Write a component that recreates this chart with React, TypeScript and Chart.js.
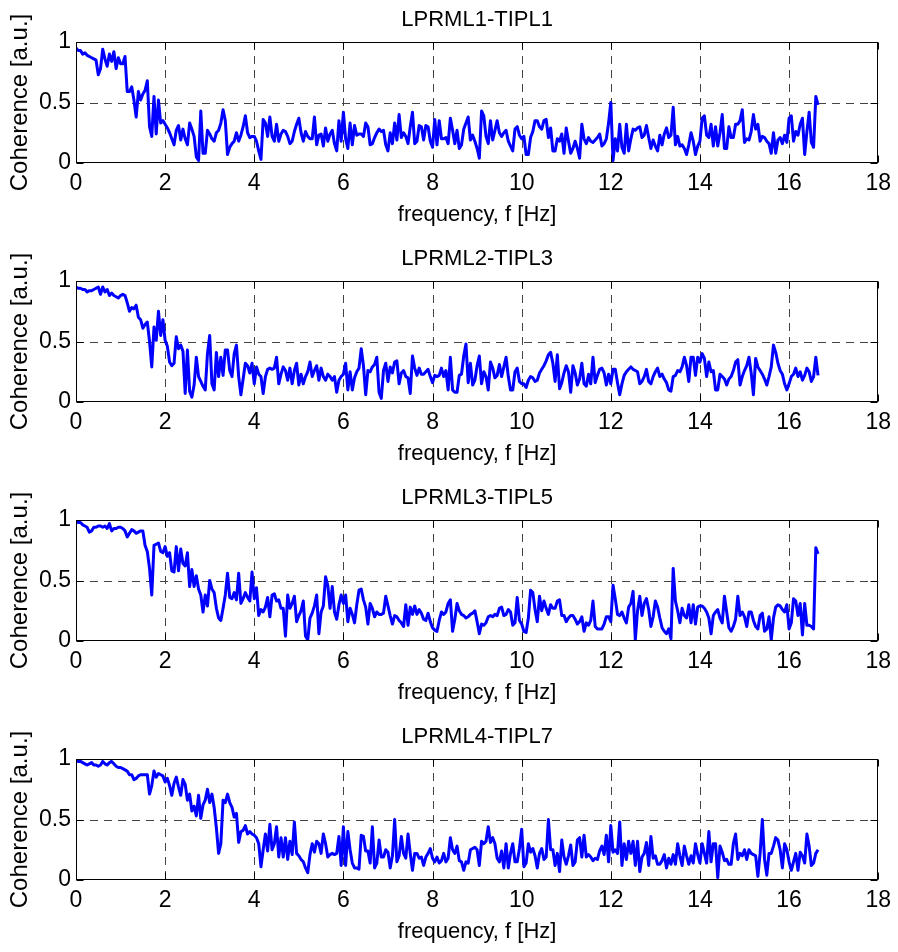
import React, { useEffect, useRef } from "react";
import { Chart, registerables } from "chart.js";

Chart.register(...registerables);

// ---------- data ----------
const FREQ_STEP_HZ = 0.05; // spacing of the frequency grid, starting at 0 Hz
const X_TICKS = [0, 2, 4, 6, 8, 10, 12, 14, 16, 18];
const Y_TICKS = [0, 0.5, 1];
const TITLES = ["LPRML1-TIPL1", "LPRML2-TIPL3", "LPRML3-TIPL5", "LPRML4-TIPL7"];
const X_LABEL = "frequency, f [Hz]";
const Y_LABEL = "Coherence [a.u.]";

// one row = 1 Hz (20 samples)
const COH_1 = [
  0.95, 0.93, 0.93, 0.90, 0.91, 0.89, 0.88, 0.87, 0.86, 0.85, 0.73, 0.78, 0.94, 0.86, 0.80, 0.90, 0.84, 0.92, 0.78, 0.87,
  0.82, 0.82, 0.88, 0.59, 0.59, 0.63, 0.52, 0.38, 0.59, 0.52, 0.57, 0.60, 0.68, 0.30, 0.22, 0.55, 0.24, 0.52, 0.33, 0.35,
  0.32, 0.29, 0.25, 0.20, 0.15, 0.27, 0.31, 0.19, 0.28, 0.20, 0.15, 0.33, 0.28, 0.22, 0.05, 0.02, 0.43, 0.08, 0.08, 0.27,
  0.24, 0.20, 0.18, 0.25, 0.27, 0.33, 0.44, 0.35, 0.07, 0.13, 0.16, 0.18, 0.25, 0.18, 0.23, 0.30, 0.39, 0.25, 0.21, 0.22,
  0.22, 0.18, 0.10, 0.03, 0.36, 0.33, 0.22, 0.38, 0.22, 0.18, 0.32, 0.18, 0.24, 0.27, 0.26, 0.22, 0.16, 0.18, 0.26, 0.32,
  0.37, 0.25, 0.18, 0.26, 0.22, 0.20, 0.20, 0.38, 0.15, 0.23, 0.24, 0.14, 0.29, 0.18, 0.24, 0.27, 0.16, 0.10, 0.35, 0.18,
  0.42, 0.20, 0.12, 0.33, 0.15, 0.31, 0.23, 0.24, 0.24, 0.22, 0.33, 0.30, 0.15, 0.16, 0.21, 0.25, 0.28, 0.26, 0.27, 0.15,
  0.10, 0.25, 0.16, 0.33, 0.19, 0.40, 0.21, 0.25, 0.22, 0.16, 0.30, 0.42, 0.16, 0.18, 0.31, 0.30, 0.19, 0.31, 0.30, 0.18,
  0.13, 0.36, 0.15, 0.35, 0.20, 0.20, 0.21, 0.16, 0.37, 0.27, 0.16, 0.27, 0.12, 0.15, 0.28, 0.33, 0.38, 0.19, 0.23, 0.18,
  0.12, 0.04, 0.43, 0.39, 0.22, 0.16, 0.35, 0.19, 0.27, 0.35, 0.25, 0.22, 0.25, 0.27, 0.18, 0.14, 0.10, 0.28, 0.30, 0.23,
  0.20, 0.22, 0.07, 0.07, 0.21, 0.26, 0.35, 0.35, 0.30, 0.28, 0.35, 0.36, 0.21, 0.29, 0.10, 0.10, 0.20, 0.18, 0.24, 0.08,
  0.29, 0.18, 0.08, 0.12, 0.18, 0.12, 0.04, 0.32, 0.20, 0.16, 0.21, 0.18, 0.17, 0.19, 0.21, 0.24, 0.14, 0.16, 0.20, 0.33,
  0.50, 0.02, 0.20, 0.10, 0.32, 0.13, 0.08, 0.32, 0.10, 0.20, 0.28, 0.27, 0.29, 0.30, 0.21, 0.23, 0.31, 0.21, 0.12, 0.19,
  0.14, 0.10, 0.23, 0.15, 0.24, 0.29, 0.21, 0.23, 0.46, 0.15, 0.22, 0.14, 0.15, 0.12, 0.07, 0.15, 0.25, 0.18, 0.07, 0.14,
  0.18, 0.37, 0.39, 0.23, 0.21, 0.32, 0.14, 0.30, 0.14, 0.25, 0.40, 0.12, 0.12, 0.30, 0.21, 0.21, 0.32, 0.32, 0.35, 0.44,
  0.17, 0.20, 0.19, 0.26, 0.40, 0.28, 0.32, 0.18, 0.22, 0.21, 0.18, 0.16, 0.08, 0.25, 0.08, 0.19, 0.21, 0.16, 0.23, 0.17,
  0.37, 0.39, 0.18, 0.26, 0.23, 0.32, 0.37, 0.07, 0.26, 0.42, 0.17, 0.13, 0.55, 0.48,
];

const COH_2 = [
  0.95, 0.94, 0.94, 0.93, 0.93, 0.91, 0.92, 0.92, 0.93, 0.94, 0.95, 0.89, 0.95, 0.91, 0.93, 0.88, 0.90, 0.88, 0.87, 0.86,
  0.88, 0.89, 0.88, 0.82, 0.75, 0.78, 0.77, 0.80, 0.70, 0.68, 0.61, 0.64, 0.66, 0.50, 0.29, 0.62, 0.51, 0.75, 0.55, 0.68,
  0.51, 0.46, 0.33, 0.30, 0.32, 0.54, 0.44, 0.47, 0.42, 0.07, 0.43, 0.09, 0.04, 0.14, 0.37, 0.21, 0.17, 0.13, 0.10, 0.40,
  0.55, 0.15, 0.10, 0.41, 0.21, 0.37, 0.22, 0.43, 0.43, 0.26, 0.21, 0.40, 0.47, 0.21, 0.06, 0.19, 0.32, 0.30, 0.24, 0.32,
  0.15, 0.29, 0.23, 0.21, 0.07, 0.21, 0.27, 0.28, 0.27, 0.28, 0.37, 0.15, 0.23, 0.29, 0.26, 0.18, 0.28, 0.15, 0.26, 0.32,
  0.14, 0.23, 0.15, 0.21, 0.25, 0.33, 0.21, 0.26, 0.30, 0.18, 0.28, 0.21, 0.18, 0.23, 0.21, 0.18, 0.21, 0.08, 0.18, 0.21,
  0.23, 0.32, 0.10, 0.25, 0.10, 0.20, 0.25, 0.28, 0.44, 0.30, 0.06, 0.26, 0.25, 0.29, 0.31, 0.37, 0.08, 0.03, 0.26, 0.32,
  0.17, 0.29, 0.24, 0.33, 0.34, 0.15, 0.24, 0.26, 0.21, 0.20, 0.07, 0.38, 0.28, 0.22, 0.28, 0.23, 0.23, 0.25, 0.27, 0.21,
  0.16, 0.22, 0.21, 0.22, 0.28, 0.21, 0.26, 0.10, 0.37, 0.10, 0.08, 0.08, 0.22, 0.23, 0.38, 0.48, 0.16, 0.32, 0.14, 0.18,
  0.30, 0.38, 0.15, 0.25, 0.21, 0.10, 0.33, 0.28, 0.20, 0.22, 0.31, 0.21, 0.29, 0.37, 0.21, 0.10, 0.10, 0.25, 0.28, 0.17,
  0.15, 0.15, 0.12, 0.18, 0.21, 0.20, 0.17, 0.18, 0.24, 0.27, 0.30, 0.34, 0.39, 0.41, 0.32, 0.17, 0.39, 0.11, 0.16, 0.24,
  0.30, 0.25, 0.08, 0.30, 0.24, 0.14, 0.19, 0.32, 0.15, 0.13, 0.23, 0.15, 0.37, 0.16, 0.22, 0.27, 0.28, 0.24, 0.14, 0.23,
  0.15, 0.27, 0.27, 0.16, 0.06, 0.15, 0.22, 0.25, 0.27, 0.29, 0.27, 0.26, 0.25, 0.15, 0.17, 0.21, 0.27, 0.17, 0.15, 0.21,
  0.25, 0.28, 0.21, 0.23, 0.19, 0.16, 0.10, 0.09, 0.21, 0.22, 0.26, 0.25, 0.29, 0.37, 0.30, 0.17, 0.37, 0.37, 0.22, 0.37,
  0.33, 0.40, 0.36, 0.21, 0.33, 0.25, 0.26, 0.10, 0.10, 0.23, 0.21, 0.19, 0.14, 0.19, 0.21, 0.26, 0.33, 0.35, 0.14, 0.21,
  0.26, 0.30, 0.37, 0.24, 0.06, 0.36, 0.29, 0.26, 0.23, 0.19, 0.14, 0.21, 0.29, 0.47, 0.41, 0.32, 0.26, 0.23, 0.15, 0.10,
  0.15, 0.21, 0.23, 0.28, 0.21, 0.25, 0.18, 0.22, 0.28, 0.25, 0.17, 0.21, 0.37, 0.22,
];

const COH_3 = [
  0.99, 0.98, 0.98, 0.96, 0.95, 0.94, 0.90, 0.91, 0.94, 0.94, 0.95, 0.95, 0.94, 0.95, 0.93, 0.97, 0.91, 0.93, 0.93, 0.94,
  0.94, 0.93, 0.91, 0.86, 0.89, 0.92, 0.91, 0.89, 0.90, 0.91, 0.91, 0.79, 0.74, 0.60, 0.38, 0.79, 0.80, 0.81, 0.74, 0.73,
  0.78, 0.70, 0.73, 0.58, 0.57, 0.78, 0.58, 0.76, 0.64, 0.62, 0.73, 0.45, 0.59, 0.45, 0.54, 0.43, 0.38, 0.24, 0.38, 0.29,
  0.50, 0.43, 0.40, 0.27, 0.19, 0.17, 0.27, 0.38, 0.56, 0.36, 0.35, 0.40, 0.34, 0.56, 0.31, 0.35, 0.40, 0.36, 0.33, 0.57,
  0.35, 0.44, 0.21, 0.26, 0.24, 0.28, 0.36, 0.20, 0.38, 0.39, 0.33, 0.34, 0.27, 0.27, 0.04, 0.38, 0.27, 0.31, 0.37, 0.16,
  0.21, 0.25, 0.33, 0.04, 0.01, 0.19, 0.23, 0.29, 0.38, 0.06, 0.24, 0.29, 0.53, 0.46, 0.27, 0.45, 0.24, 0.18, 0.30, 0.38,
  0.31, 0.38, 0.16, 0.27, 0.22, 0.15, 0.30, 0.42, 0.43, 0.34, 0.28, 0.14, 0.31, 0.27, 0.20, 0.24, 0.22, 0.22, 0.23, 0.37,
  0.29, 0.21, 0.14, 0.21, 0.20, 0.17, 0.15, 0.12, 0.30, 0.13, 0.28, 0.22, 0.29, 0.22, 0.26, 0.23, 0.18, 0.17, 0.23, 0.16,
  0.11, 0.09, 0.08, 0.17, 0.24, 0.22, 0.24, 0.31, 0.34, 0.08, 0.18, 0.31, 0.25, 0.22, 0.21, 0.19, 0.20, 0.22, 0.23, 0.25,
  0.16, 0.06, 0.14, 0.13, 0.15, 0.20, 0.21, 0.20, 0.22, 0.21, 0.27, 0.28, 0.21, 0.22, 0.26, 0.24, 0.13, 0.15, 0.36, 0.17,
  0.14, 0.08, 0.07, 0.19, 0.42, 0.40, 0.26, 0.16, 0.37, 0.25, 0.33, 0.27, 0.22, 0.30, 0.27, 0.27, 0.33, 0.34, 0.21, 0.21,
  0.16, 0.19, 0.21, 0.21, 0.18, 0.14, 0.16, 0.20, 0.08, 0.15, 0.13, 0.17, 0.33, 0.12, 0.10, 0.10, 0.10, 0.14, 0.20, 0.20,
  0.16, 0.46, 0.35, 0.22, 0.21, 0.24, 0.19, 0.15, 0.28, 0.31, 0.41, 0.01, 0.25, 0.37, 0.21, 0.31, 0.35, 0.26, 0.12, 0.20,
  0.33, 0.28, 0.19, 0.11, 0.08, 0.06, 0.10, 0.02, 0.60, 0.33, 0.25, 0.15, 0.27, 0.21, 0.19, 0.30, 0.15, 0.30, 0.14, 0.28,
  0.29, 0.29, 0.27, 0.24, 0.19, 0.06, 0.21, 0.24, 0.26, 0.19, 0.15, 0.37, 0.24, 0.11, 0.08, 0.12, 0.18, 0.37, 0.21, 0.24,
  0.20, 0.12, 0.24, 0.24, 0.17, 0.12, 0.10, 0.21, 0.23, 0.08, 0.10, 0.20, 0.01, 0.19, 0.28, 0.30, 0.29, 0.26, 0.24, 0.30,
  0.10, 0.15, 0.35, 0.33, 0.21, 0.31, 0.05, 0.31, 0.13, 0.13, 0.12, 0.10, 0.77, 0.72,
];

const COH_4 = [
  0.99, 0.98, 0.98, 0.97, 0.96, 0.95, 0.96, 0.97, 0.95, 0.95, 0.94, 0.95, 0.98, 0.96, 0.95, 0.97, 0.98, 0.96, 0.94, 0.93,
  0.93, 0.92, 0.91, 0.90, 0.87, 0.87, 0.83, 0.84, 0.86, 0.87, 0.87, 0.87, 0.87, 0.71, 0.78, 0.90, 0.85, 0.88, 0.87, 0.86,
  0.81, 0.84, 0.78, 0.70, 0.80, 0.85, 0.77, 0.70, 0.83, 0.79, 0.66, 0.71, 0.57, 0.61, 0.53, 0.70, 0.51, 0.62, 0.66, 0.75,
  0.64, 0.71, 0.60, 0.43, 0.22, 0.30, 0.66, 0.64, 0.71, 0.64, 0.60, 0.52, 0.55, 0.31, 0.40, 0.41, 0.45, 0.38, 0.40, 0.38,
  0.37, 0.35, 0.30, 0.11, 0.25, 0.38, 0.24, 0.46, 0.25, 0.30, 0.44, 0.19, 0.35, 0.19, 0.35, 0.17, 0.32, 0.21, 0.48, 0.22,
  0.20, 0.17, 0.15, 0.10, 0.06, 0.21, 0.30, 0.23, 0.32, 0.30, 0.22, 0.38, 0.30, 0.19, 0.21, 0.22, 0.21, 0.22, 0.36, 0.12,
  0.44, 0.12, 0.40, 0.25, 0.14, 0.10, 0.10, 0.09, 0.37, 0.36, 0.24, 0.24, 0.14, 0.44, 0.10, 0.14, 0.33, 0.19, 0.19, 0.25,
  0.23, 0.10, 0.20, 0.50, 0.15, 0.20, 0.36, 0.22, 0.18, 0.38, 0.22, 0.08, 0.22, 0.22, 0.18, 0.19, 0.12, 0.19, 0.22, 0.26,
  0.18, 0.15, 0.19, 0.14, 0.16, 0.22, 0.15, 0.18, 0.35, 0.25, 0.22, 0.28, 0.16, 0.15, 0.08, 0.15, 0.14, 0.25, 0.26, 0.27,
  0.25, 0.12, 0.32, 0.30, 0.32, 0.44, 0.31, 0.35, 0.30, 0.18, 0.15, 0.24, 0.10, 0.30, 0.10, 0.22, 0.30, 0.15, 0.15, 0.26,
  0.42, 0.11, 0.14, 0.30, 0.23, 0.26, 0.20, 0.10, 0.22, 0.26, 0.17, 0.19, 0.50, 0.25, 0.25, 0.12, 0.22, 0.07, 0.33, 0.19,
  0.13, 0.20, 0.29, 0.12, 0.15, 0.33, 0.35, 0.19, 0.37, 0.19, 0.21, 0.19, 0.16, 0.18, 0.17, 0.24, 0.28, 0.21, 0.37, 0.15,
  0.45, 0.23, 0.25, 0.22, 0.48, 0.12, 0.30, 0.17, 0.32, 0.22, 0.32, 0.12, 0.32, 0.07, 0.19, 0.22, 0.31, 0.12, 0.36, 0.18,
  0.20, 0.13, 0.13, 0.16, 0.21, 0.10, 0.18, 0.13, 0.21, 0.13, 0.30, 0.20, 0.12, 0.28, 0.20, 0.13, 0.20, 0.14, 0.30, 0.21,
  0.14, 0.30, 0.22, 0.14, 0.40, 0.15, 0.30, 0.30, 0.02, 0.28, 0.23, 0.16, 0.17, 0.13, 0.13, 0.30, 0.38, 0.17, 0.22, 0.20,
  0.25, 0.17, 0.25, 0.22, 0.21, 0.20, 0.03, 0.22, 0.50, 0.17, 0.04, 0.22, 0.22, 0.28, 0.35, 0.33, 0.25, 0.10, 0.30, 0.25,
  0.15, 0.08, 0.15, 0.22, 0.08, 0.23, 0.20, 0.14, 0.38, 0.28, 0.12, 0.14, 0.22, 0.25,
];

const SERIES = [COH_1, COH_2, COH_3, COH_4];

// ---------- layout / style ----------
const FONT_FAMILY = "'Liberation Sans', Arial, Helvetica, sans-serif";
const PLOT_TOPS = [42, 281, 520, 759];
const TITLE_SPACE = 42;
const CANVAS_W = 898;
const CANVAS_H = 231;

const framePlugin = {
  id: "matlabFrame",
  beforeDatasetsDraw(chart: any) {
    const { ctx, chartArea: a, scales } = chart;
    ctx.save();
    ctx.strokeStyle = "#444";
    ctx.lineWidth = 1;
    ctx.setLineDash([8, 6]);
    ctx.beginPath();
    for (const v of X_TICKS) {
      if (v === X_TICKS[0] || v === X_TICKS[X_TICKS.length - 1]) continue;
      const x = Math.round(scales.x.getPixelForValue(v)) + 0.5;
      ctx.moveTo(x, a.top);
      ctx.lineTo(x, a.bottom);
    }
    for (const v of Y_TICKS) {
      if (v === Y_TICKS[0] || v === Y_TICKS[Y_TICKS.length - 1]) continue;
      const y = Math.round(scales.y.getPixelForValue(v)) + 0.5;
      ctx.moveTo(a.left, y);
      ctx.lineTo(a.right, y);
    }
    ctx.stroke();
    ctx.restore();
  },
  afterDatasetsDraw(chart: any) {
    const { ctx, chartArea: a, scales } = chart;
    const L = Math.round(a.left) + 0.5;
    const R = Math.round(a.right) - 0.5;
    const T = Math.round(a.top) + 0.5;
    const B = Math.round(a.bottom) - 0.5;
    const tl = 7;
    ctx.save();
    ctx.strokeStyle = "#000";
    ctx.lineWidth = 1;
    ctx.setLineDash([]);
    ctx.strokeRect(L, T, R - L, B - T);
    ctx.beginPath();
    for (const v of X_TICKS) {
      const x = Math.round(scales.x.getPixelForValue(v)) + 0.5;
      ctx.moveTo(x, B);
      ctx.lineTo(x, B - tl);
      ctx.moveTo(x, T);
      ctx.lineTo(x, T + tl);
    }
    for (const v of Y_TICKS) {
      const y = Math.round(scales.y.getPixelForValue(v)) + 0.5;
      ctx.moveTo(L, y);
      ctx.lineTo(L + tl, y);
      ctx.moveTo(R, y);
      ctx.lineTo(R - tl, y);
    }
    ctx.stroke();
    ctx.restore();
  },
};

function makeConfig(k: number): any {
  const titleFont = { family: FONT_FAMILY, size: 22, weight: "normal" as const };
  const tickFont = { family: FONT_FAMILY, size: 23, weight: "normal" as const };
  const yLabelFont = { family: FONT_FAMILY, size: 24, weight: "normal" as const };
  const values = SERIES[k];
  return {
    type: "line",
    data: {
      datasets: [
        {
          data: values.map((v, i) => ({ x: Number((i * FREQ_STEP_HZ).toFixed(3)), y: v })),
          borderColor: "#0000ff",
          backgroundColor: "#0000ff",
          borderWidth: 3,
          pointRadius: 0,
          tension: 0,
          fill: false,
          borderJoinStyle: "round",
        },
      ],
    },
    options: {
      responsive: false,
      maintainAspectRatio: false,
      animation: false,
      events: [],
      layout: { padding: { left: 0, right: 15, top: 0, bottom: 0 } },
      plugins: {
        legend: { display: false },
        tooltip: { enabled: false },
        title: {
          display: true,
          text: TITLES[k],
          fullSize: false,
          color: "#000",
          font: titleFont,
          padding: { top: 6.8, bottom: 8.8 },
        },
      },
      scales: {
        x: {
          type: "linear",
          min: X_TICKS[0],
          max: X_TICKS[X_TICKS.length - 1],
          ticks: {
            stepSize: 2,
            color: "#000",
            font: tickFont,
            padding: 7,
            maxRotation: 0,
            autoSkip: false,
          },
          grid: { display: false, drawTicks: false },
          border: { display: false },
          title: {
            display: true,
            text: X_LABEL,
            color: "#000",
            font: titleFont,
            padding: { top: 0, bottom: 2.8 },
          },
          afterFit: (s: any) => {
            s.height = 68;
          },
        },
        y: {
          type: "linear",
          min: Y_TICKS[0],
          max: Y_TICKS[Y_TICKS.length - 1],
          ticks: {
            stepSize: 0.5,
            color: "#000",
            font: tickFont,
            padding: 5,
            callback: (v: any) => String(v),
          },
          grid: { display: false, drawTicks: false },
          border: { display: false },
          title: {
            display: true,
            text: Y_LABEL,
            color: "#000",
            font: yLabelFont,
            padding: { top: 5.6, bottom: 0 },
          },
          afterFit: (s: any) => {
            s.width = 76;
          },
        },
      },
    },
    plugins: [framePlugin],
  };
}

export default function App() {
  const refs = useRef<(HTMLCanvasElement | null)[]>([]);

  useEffect(() => {
    const charts = SERIES.map((_, k) => new Chart(refs.current[k] as HTMLCanvasElement, makeConfig(k)));
    return () => charts.forEach((c) => c.destroy());
  }, []);

  return (
    <div
      style={{
        position: "absolute",
        left: 0,
        top: 0,
        width: CANVAS_W,
        height: 952,
        background: "#fff",
        overflow: "hidden",
      }}
    >
      {SERIES.map((_, k) => (
        <canvas
          key={k}
          ref={(el) => {
            refs.current[k] = el;
          }}
          width={CANVAS_W}
          height={CANVAS_H}
          style={{
            position: "absolute",
            left: 0,
            top: PLOT_TOPS[k] - TITLE_SPACE,
            width: CANVAS_W,
            height: CANVAS_H,
          }}
        />
      ))}
    </div>
  );
}
